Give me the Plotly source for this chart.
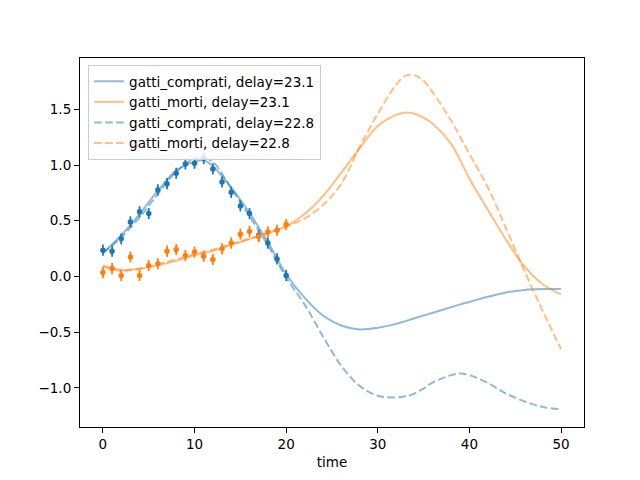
import plotly.graph_objects as go

# ---- data ----
t_obs = list(range(0, 21))
comprati_obs = [0.236, 0.227, 0.338, 0.49, 0.58, 0.565, 0.777, 0.833, 0.926, 1.01, 1.016,
                1.06, 0.965, 0.848, 0.755, 0.633, 0.565, 0.37, 0.30, 0.158, 0.009]
morti_obs = [0.035, 0.072, 0.009, 0.176, 0.009, 0.099, 0.114, 0.227, 0.242, 0.188, 0.22,
             0.182, 0.152, 0.248, 0.30, 0.38, 0.403, 0.358, 0.40, 0.415, 0.466]
obs_err = [0.05] * 21

t_sim = [0, 2, 4, 6, 8, 10, 11, 12, 14, 16, 18, 20, 22, 24, 26, 28, 30, 32, 33, 34, 35,
         36, 38, 39, 40, 42, 44, 46, 48, 50]
comprati_231 = [0.21, 0.37, 0.56, 0.77, 0.95, 1.03, 1.04, 0.99, 0.80, 0.57, 0.31, 0.02,
                -0.19, -0.35, -0.44, -0.475, -0.46, -0.425, -0.40, -0.375, -0.35,
                -0.325, -0.275, -0.25, -0.228, -0.182, -0.143, -0.12, -0.112, -0.112]
morti_231 = [0.10, 0.06, 0.07, 0.10, 0.14, 0.19, 0.21, 0.23, 0.285, 0.335, 0.39, 0.45,
             0.56, 0.72, 0.93, 1.15, 1.35, 1.45, 1.47, 1.46, 1.425,
             1.37, 1.19, 1.04, 0.88, 0.60, 0.33, 0.09, -0.07, -0.16]
comprati_228 = [0.21, 0.35, 0.53, 0.74, 0.94, 1.06, 1.065, 1.03, 0.79, 0.54, 0.28, -0.01,
                -0.25, -0.535, -0.80, -0.98, -1.07, -1.085, -1.075, -1.05, -1.005,
                -0.95, -0.885, -0.87, -0.885, -0.955, -1.05, -1.12, -1.17, -1.19]
morti_228 = [0.09, 0.05, 0.07, 0.11, 0.155, 0.20, 0.22, 0.24, 0.29, 0.34, 0.39, 0.45,
             0.52, 0.64, 0.83, 1.16, 1.46, 1.72, 1.80, 1.805, 1.755,
             1.65, 1.40, 1.25, 1.10, 0.80, 0.43, 0.05, -0.31, -0.65]

x_ticks = [0, 10, 20, 30, 40, 50]
y_ticks = [-1.0, -0.5, 0.0, 0.5, 1.0, 1.5]

BLUE = "#1f77b4"
ORANGE = "#ff7f0e"
DASH = "7.7px,3.3px"

fig = go.Figure()

for y, c in [(comprati_obs, BLUE), (morti_obs, ORANGE)]:
    fig.add_trace(go.Scatter(
        x=t_obs, y=y, mode="markers", showlegend=False,
        marker=dict(color=c, size=5.5),
        error_y=dict(type="data", array=obs_err, visible=True, color=c,
                     thickness=1.8, width=0),
    ))

series = [
    ("gatti_comprati, delay=23.1", comprati_231, BLUE, "solid"),
    ("gatti_morti, delay=23.1", morti_231, ORANGE, "solid"),
    ("gatti_comprati, delay=22.8", comprati_228, BLUE, DASH),
    ("gatti_morti, delay=22.8", morti_228, ORANGE, DASH),
]
for name, y, c, d in series:
    fig.add_trace(go.Scatter(
        x=t_sim, y=y, mode="lines", name=name, opacity=0.5,
        line=dict(color=c, width=2, dash=d, shape="spline", smoothing=1.0),
    ))

axis_common = dict(
    showline=True, linecolor="black", linewidth=1.1, mirror=True,
    ticks="outside", ticklen=5, tickwidth=1.1, tickcolor="black",
    showgrid=False, zeroline=False,
    tickfont=dict(family="DejaVu Sans", size=13.5, color="black"),
)

# page body has an 8px margin; size the figure so the axes land where the reference has them
fig.update_layout(
    width=632, height=472,
    margin=dict(l=72, r=56, t=50, b=45),
    paper_bgcolor="white", plot_bgcolor="white",
    font=dict(family="DejaVu Sans", size=13.5, color="black"),
    xaxis=dict(range=[-2.5, 52.5], tickvals=x_ticks,
               title=dict(text="time", font=dict(size=13.5), standoff=6),
               **axis_common),
    yaxis=dict(range=[-1.35, 1.96], tickvals=y_ticks, tickformat=".1f",
               **axis_common),
    legend=dict(x=0.016, y=0.981, xanchor="left", yanchor="top",
                bgcolor="rgba(255,255,255,0.8)", bordercolor="#cccccc",
                borderwidth=1, font=dict(size=13.5, family="DejaVu Sans"),
                tracegroupgap=0),
)

fig.write_html("out.html")
